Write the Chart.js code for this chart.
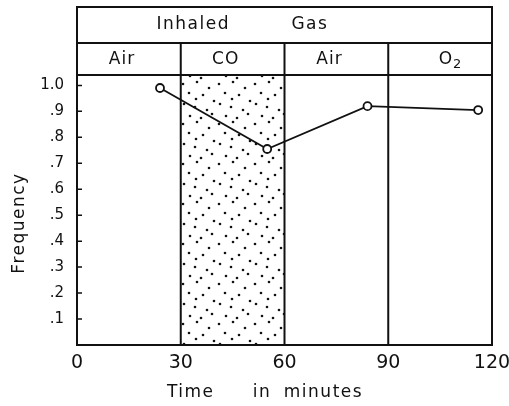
<!DOCTYPE html>
<html>
<head>
<meta charset="utf-8">
<script src="https://cdn.jsdelivr.net/npm/chart.js@4"></script>
<style>
  body { margin: 0; background: #fff; }
  canvas { display: block; }
</style>
</head>
<body>
<canvas id="chartFreq" width="509" height="406"></canvas>
<script>
// dados
const tempoMin = [24, 55, 84, 116];
const frequencia = [0.99, 0.755, 0.92, 0.905];
const limitesPeriodo = [0, 30, 60, 90, 120];
const gasPeriodo = ['Air', 'CO', 'Air', 'O₂'];
const periodoCO = 1;
const xTicks = [0, 30, 60, 90, 120];
const yTicks = [0, 0.1, 0.2, 0.3, 0.4, 0.5, 0.6, 0.7, 0.8, 0.9, 1.0];
const yTickLabels = ['', '.1', '.2', '.3', '.4', '.5', '.6', '.7', '.8', '.9', '1.0'];

const FONTE = '"DejaVu Sans", sans-serif';
const COR = '#111';

// textura pontilhada da faixa de CO
function criarPontilhado(ctx) {
    const tile = document.createElement('canvas');
    tile.width = 36; tile.height = 40;
    const t = tile.getContext('2d');
    const pontos = [[3,4],[17,2],[29,8],[9,13],[23,15],[34,21],[4,24],[15,27],[27,30],[10,36],[21,38],[32,34],[16,19]];
    t.fillStyle = COR;
    pontos.forEach(([x, y]) => { t.beginPath(); t.arc(x, y, 1.3, 0, Math.PI * 2); t.fill(); });
    return ctx.createPattern(tile, 'repeat');
}

// texto com subscrito (O₂)
function escreverGas(ctx, g, cx, cy) {
    if (!g.includes('₂')) { ctx.fillText(g, cx, cy); return; }
    const base = g.replace('₂', '');
    ctx.textAlign = 'left';
    const wBase = ctx.measureText(base).width;
    const fonteAnt = ctx.font;
    ctx.font = '13px ' + FONTE;
    const wSub = ctx.measureText('2').width;
    const x0 = cx - (wBase + wSub) / 2;
    ctx.fillText('2', x0 + wBase, cy + 5);
    ctx.font = fonteAnt;
    ctx.fillText(base, x0, cy);
    ctx.textAlign = 'center';
}

const molduraPlugin = {
    id: 'moldura',
    beforeDatasetsDraw(chart) {
        const { ctx, chartArea: a, scales: { x, y } } = chart;
        // faixa pontilhada
        const x0 = x.getPixelForValue(limitesPeriodo[periodoCO]);
        const x1 = x.getPixelForValue(limitesPeriodo[periodoCO + 1]);
        ctx.save();
        ctx.fillStyle = criarPontilhado(ctx);
        ctx.fillRect(x0, a.top, x1 - x0, a.bottom - a.top);
        ctx.restore();

        const topo = a.top - 68;
        const meio = a.top - 32;
        ctx.save();
        ctx.strokeStyle = COR;
        ctx.lineWidth = 2;
        ctx.beginPath();
        ctx.rect(a.left, topo, a.right - a.left, a.bottom - topo);
        ctx.moveTo(a.left, meio); ctx.lineTo(a.right, meio);
        ctx.moveTo(a.left, a.top); ctx.lineTo(a.right, a.top);
        limitesPeriodo.slice(1, -1).forEach(v => {
            const px = x.getPixelForValue(v);
            ctx.moveTo(px, meio); ctx.lineTo(px, a.bottom);
        });
        ctx.stroke();
        // marcas do eixo y para dentro
        ctx.lineWidth = 1.5;
        ctx.beginPath();
        yTicks.slice(1).forEach(v => {
            const py = y.getPixelForValue(v);
            ctx.moveTo(a.left, py); ctx.lineTo(a.left + 5, py);
        });
        ctx.stroke();

        // textos do cabeçalho
        ctx.fillStyle = COR;
        ctx.font = '17px ' + FONTE;
        ctx.textBaseline = 'middle';
        ctx.textAlign = 'left';
        ctx.letterSpacing = '1.5px';
        ctx.fillText('Inhaled', x.getPixelForValue(23), topo + 18);
        ctx.fillText('Gas', x.getPixelForValue(62), topo + 18);
        ctx.textAlign = 'center';
        ctx.letterSpacing = '1px';
        gasPeriodo.forEach((g, i) => {
            const c = (limitesPeriodo[i] + limitesPeriodo[i + 1]) / 2;
            escreverGas(ctx, g, x.getPixelForValue(c + (i === 3 ? 3 : -2)), meio + 17);
        });

        // títulos dos eixos
        ctx.letterSpacing = '1.5px';
        ctx.textAlign = 'left';
        const yTitulo = a.bottom + 48;
        ctx.fillText('Time', x.getPixelForValue(26), yTitulo);
        ctx.fillText('in', x.getPixelForValue(50.8), yTitulo);
        ctx.fillText('minutes', x.getPixelForValue(59.8), yTitulo);
        ctx.textAlign = 'center';
        ctx.translate(20, y.getPixelForValue(0.47));
        ctx.rotate(-Math.PI / 2);
        ctx.fillText('Frequency', 0, 0);
        ctx.restore();
    }
};

new Chart(document.getElementById('chartFreq').getContext('2d'), {
    type: 'scatter',
    data: {
        datasets: [{
            label: 'Frequency',
            data: tempoMin.map((t, i) => ({ x: t, y: frequencia[i] })),
            showLine: true,
            borderColor: COR,
            borderWidth: 1.8,
            pointRadius: 4,
            pointBorderWidth: 1.8,
            pointBackgroundColor: '#fff',
            pointBorderColor: COR
        }]
    },
    options: {
        responsive: false,
        animation: false,
        layout: { padding: { top: 75, right: 17, left: 0, bottom: 0 } },
        plugins: { legend: { display: false }, tooltip: { enabled: false } },
        scales: {
            x: {
                type: 'linear', min: 0, max: 120,
                afterBuildTicks: s => { s.ticks = xTicks.map(v => ({ value: v })); },
                afterFit: s => { s.height = 61; s.paddingLeft = 0; s.paddingRight = 0; },
                grid: { display: false, drawTicks: false },
                border: { display: false },
                ticks: { color: COR, padding: 7, font: { size: 19, family: FONTE } }
            },
            y: {
                min: 0, max: 1.04,
                afterBuildTicks: s => { s.ticks = yTicks.map(v => ({ value: v })); },
                afterFit: s => { s.width = 77; s.paddingTop = 0; s.paddingBottom = 0; },
                grid: { display: false, drawTicks: false },
                border: { display: false },
                ticks: {
                    color: COR, padding: 13, font: { size: 15, family: FONTE },
                    callback: (v, i) => yTickLabels[i]
                }
            }
        }
    },
    plugins: [molduraPlugin]
});
</script>
</body>
</html>
